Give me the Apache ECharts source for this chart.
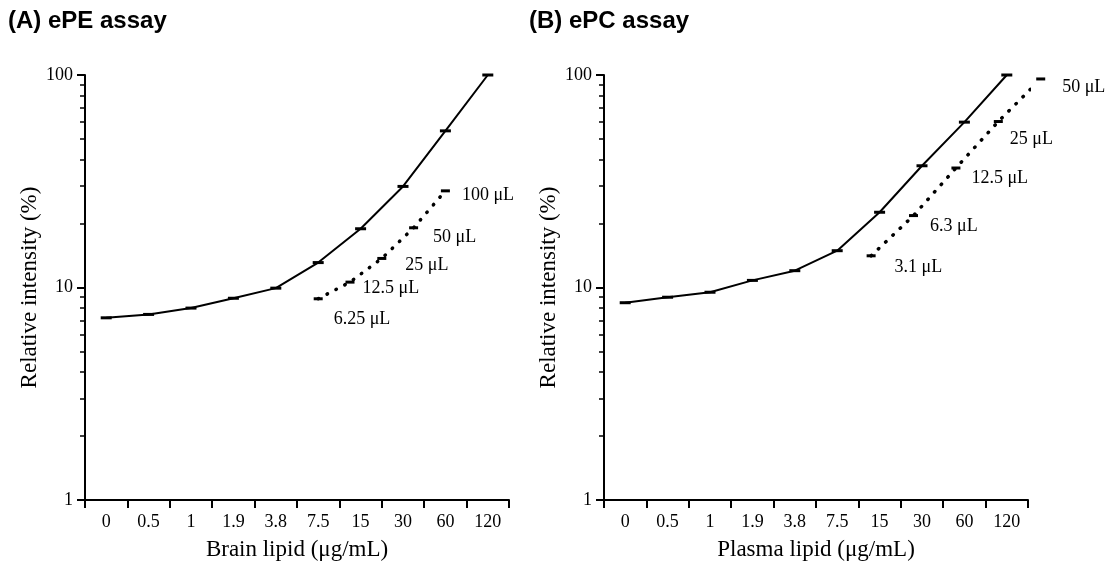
<!DOCTYPE html>
<html>
<head>
<meta charset="utf-8">
<script src="https://cdn.jsdelivr.net/npm/echarts@6/dist/echarts.min.js"></script>
<style>
html,body{margin:0;padding:0;background:#fff;}
#chart{width:1109px;height:566px;}
</style>
</head>
<body>
<div id="chart"></div>
<script>
// ---- data ----
const lipidCategories = ['0','0.5','1','1.9','3.8','7.5','15','30','60','120'];
const brainSolid = [7.2, 7.47, 8.0, 8.9, 9.93, 13.1, 18.9, 29.9, 54.6, 100];
const brainDilX = [5.5, 6.25, 7.0, 7.75, 8.5];
const brainDilY = [8.85, 10.6, 13.7, 19.1, 28.5];
const brainDilLabels = ['6.25 μL', '12.5 μL', '25 μL', '50 μL', '100 μL'];
const plasmaSolid = [8.48, 9.0, 9.5, 10.8, 12.0, 14.9, 22.6, 37.4, 60, 100];
const plasmaDilX = [6.3, 7.3, 8.3, 9.3, 10.3];
const plasmaDilY = [14.1, 21.8, 36.5, 60.4, 95.8];
const plasmaDilLabels = ['3.1 μL', '6.3 μL', '12.5 μL', '25 μL', '50 μL'];
const minorTickValues = [2,3,4,5,6,7,8,9,20,30,40,50,60,70,80,90];
const panelTitles = ['(A) ePE assay', '(B) ePC assay'];
const xNames = ['Brain lipid (μg/mL)', 'Plasma lipid (μg/mL)'];
const yName = 'Relative intensity (%)';

// label offsets (layout only)
const brainLabelOffsets = [[6,20],[3,6],[14,7],[10,9],[7,4]];
const plasmaLabelOffsets = [[14,11],[7,11],[6,10],[2,18],[12,8]];

const serif = 'Liberation Serif';
const chart = echarts.init(document.getElementById('chart'));

function catAxis(grid, name) {
  return {
    type: 'category', gridIndex: grid, data: lipidCategories, boundaryGap: true,
    name: name, nameLocation: 'middle', nameGap: 38,
    nameTextStyle: {fontFamily: serif, fontSize: 23, color: '#000'},
    axisLine: {lineStyle: {color: '#000', width: 2}},
    axisTick: {show: true, length: 8, lineStyle: {color: '#000', width: 2}, alignWithLabel: false},
    axisLabel: {interval: 0, fontFamily: serif, fontSize: 18, color: '#000', margin: 13},
    splitLine: {show: false}
  };
}
function valAxis(grid) {
  return {type: 'value', gridIndex: grid, min: 0, max: 10, show: false};
}
function yAxis(grid) {
  return {
    type: 'log', logBase: 10, gridIndex: grid, min: 1, max: 100, position: 'left',
    name: yName, nameLocation: 'middle', nameGap: 44, nameRotate: 90,
    nameTextStyle: {fontFamily: serif, fontSize: 23, color: '#000'},
    axisLine: {show: true, lineStyle: {color: '#000', width: 2}},
    axisTick: {show: true, length: 8, lineStyle: {color: '#000', width: 2}},
    axisLabel: {fontFamily: serif, fontSize: 18, color: '#000', margin: 12},
    splitLine: {show: false}, minorTick: {show: false}
  };
}
// companion axis over the same decades (log10 units) that carries the minor ticks
function minorTickAxis(grid) {
  return {
    type: 'value', gridIndex: grid, min: 0, max: 2, position: 'left', offset: 0,
    axisLine: {show: false},
    axisLabel: {show: false},
    splitLine: {show: false},
    axisTick: {show: true, length: 5, inside: false,
      customValues: minorTickValues.map(v => Math.log10(v)),
      lineStyle: {color: '#000', width: 1.5}}
  };
}
function solidSeries(xi, yi, data) {
  return {
    type: 'line', xAxisIndex: xi, yAxisIndex: yi, data: data,
    symbol: 'rect', symbolSize: [11, 3], showSymbol: true,
    itemStyle: {color: '#000'}, lineStyle: {color: '#000', width: 2},
    silent: true
  };
}
function dilSeries(xi, yi, xs, ys, labels, offsets) {
  return {
    type: 'line', xAxisIndex: xi, yAxisIndex: yi, clip: false,
    data: xs.map((x, i) => ({
      value: [x, ys[i]],
      label: {show: true, position: 'right', formatter: labels[i], offset: offsets[i],
        fontFamily: serif, fontSize: 18, color: '#000'}
    })),
    symbol: 'rect', symbolSize: [9, 3], showSymbol: true,
    itemStyle: {color: '#000'},
    lineStyle: {color: '#000', width: 3.5, type: [0.5, 9.5], cap: 'round'},
    silent: true
  };
}

chart.setOption({
  backgroundColor: '#fff',
  animation: false,
  title: [
    {text: panelTitles[0], left: 3, top: 4, textStyle: {fontFamily: 'Liberation Sans', fontWeight: 'bold', fontSize: 24, color: '#000'}},
    {text: panelTitles[1], left: 524, top: 4, textStyle: {fontFamily: 'Liberation Sans', fontWeight: 'bold', fontSize: 24, color: '#000'}}
  ],
  grid: [
    {left: 85, top: 75, width: 424, height: 426},
    {left: 604, top: 75, width: 424, height: 426}
  ],
  xAxis: [catAxis(0, xNames[0]), valAxis(0), catAxis(1, xNames[1]), valAxis(1)],
  yAxis: [yAxis(0), yAxis(1), minorTickAxis(0), minorTickAxis(1)],
  series: [
    solidSeries(0, 0, brainSolid),
    dilSeries(1, 0, brainDilX, brainDilY, brainDilLabels, brainLabelOffsets),
    solidSeries(2, 1, plasmaSolid),
    dilSeries(3, 1, plasmaDilX, plasmaDilY, plasmaDilLabels, plasmaLabelOffsets)
  ]
});
</script>
</body>
</html>
